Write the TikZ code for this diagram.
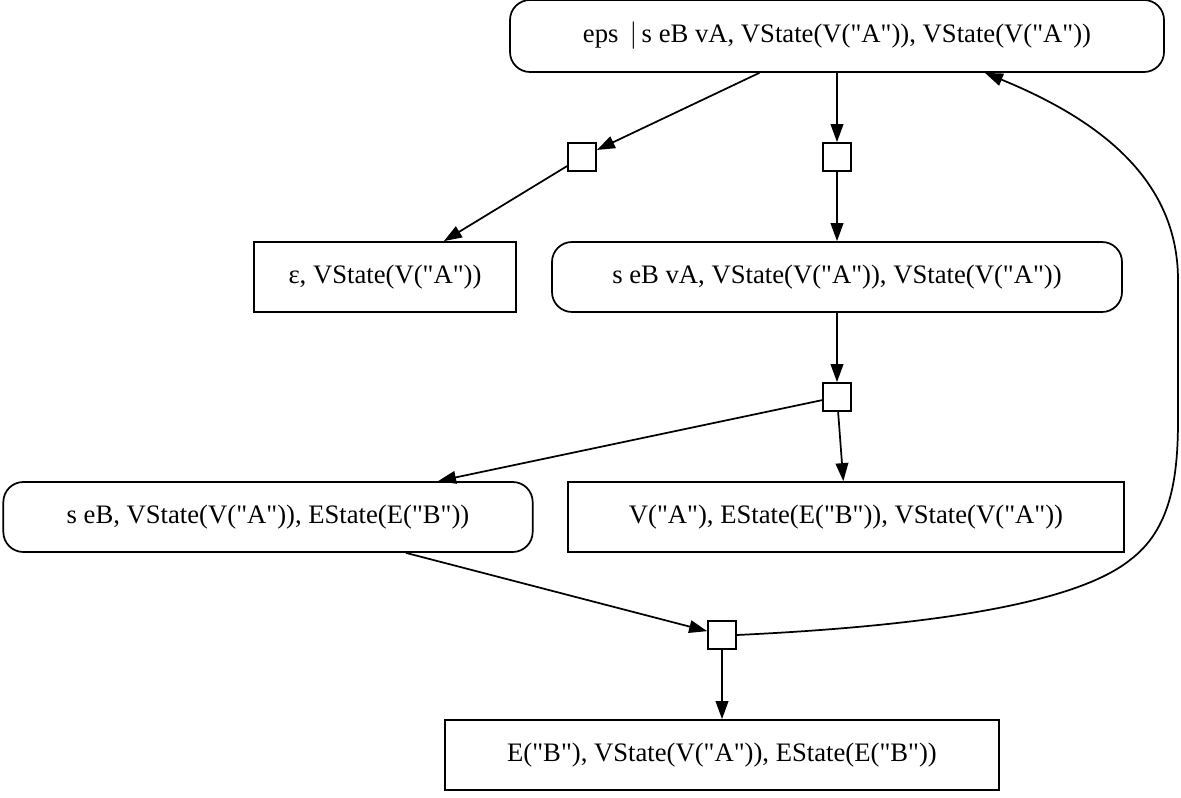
\documentclass[tikz,border=0pt]{standalone}
\usepackage{fontspec}
\setmainfont{Liberation Serif}[Ligatures=TeXOff]
\usetikzlibrary{arrows.meta, positioning}

\newcommand{\qq}[1]{\char34 #1\char34}

\begin{document}
\begin{tikzpicture}[
    x=0.75pt, y=-0.75pt,
    line width=1.3pt,
    >={Triangle[length=13.5pt, width=9.5pt]},
    state/.style={draw, rectangle, rounded corners=15pt, minimum height=52.5pt, font=\fontsize{20}{24}\selectfont},
    leaf/.style={draw, rectangle, minimum height=52.5pt, font=\fontsize{20}{24}\selectfont},
    junction/.style={draw, rectangle, minimum size=21pt, inner sep=0pt}
]
    \useasboundingbox (0,0) rectangle (1181,798);

    % States
    \node[state, minimum width=490.5pt, minimum height=54pt] (top) at (837,36) {eps \,$|$\,s eB vA, VState(V(\qq{A})), VState(V(\qq{A}))};
    \node[leaf, minimum width=196pt] (eps) at (385,277) {ε, VState(V(\qq{A}))};
    \node[state, minimum width=427.5pt] (mid) at (837,277) {s eB vA, VState(V(\qq{A})), VState(V(\qq{A}))};
    \node[state, minimum width=397pt] (left) at (268,517) {s eB, VState(V(\qq{A})), EState(E(\qq{B}))};
    \node[leaf, minimum width=417pt] (right) at (846,517) {V(\qq{A}), EState(E(\qq{B})), VState(V(\qq{A}))};
    \node[leaf, minimum width=416pt] (bottom) at (722,755) {E(\qq{B}), VState(V(\qq{A})), EState(E(\qq{B}))};

    % Junctions
    \foreach \name/\x/\y in {j1/582/157, j2/837/157, j3/837/397, j4/722/635} {
        \node[junction] (\name) at (\x,\y) {};
    }

    % Edges
    \draw[->] (top) -- (j1);
    \draw[->] (top) -- (j2);
    \draw[->] (j1) -- (eps);
    \draw[->] (j2) -- (mid);
    \draw[->] (mid) -- (j3);
    \draw[->] (j3) -- (left);
    \draw[->] (j3) -- (right);
    \draw[->] (left) -- (j4);
    \draw[->] (j4) -- (bottom);
    \draw[->] (j4.east) .. controls (950,625) and (1080,600) .. (1130,560)
        .. controls (1170,530) and (1178,480) .. (1178,420) -- (1178,280)
        .. controls (1178,180) and (1100,120) .. (top.-14.7);

\end{tikzpicture}
\end{document}
